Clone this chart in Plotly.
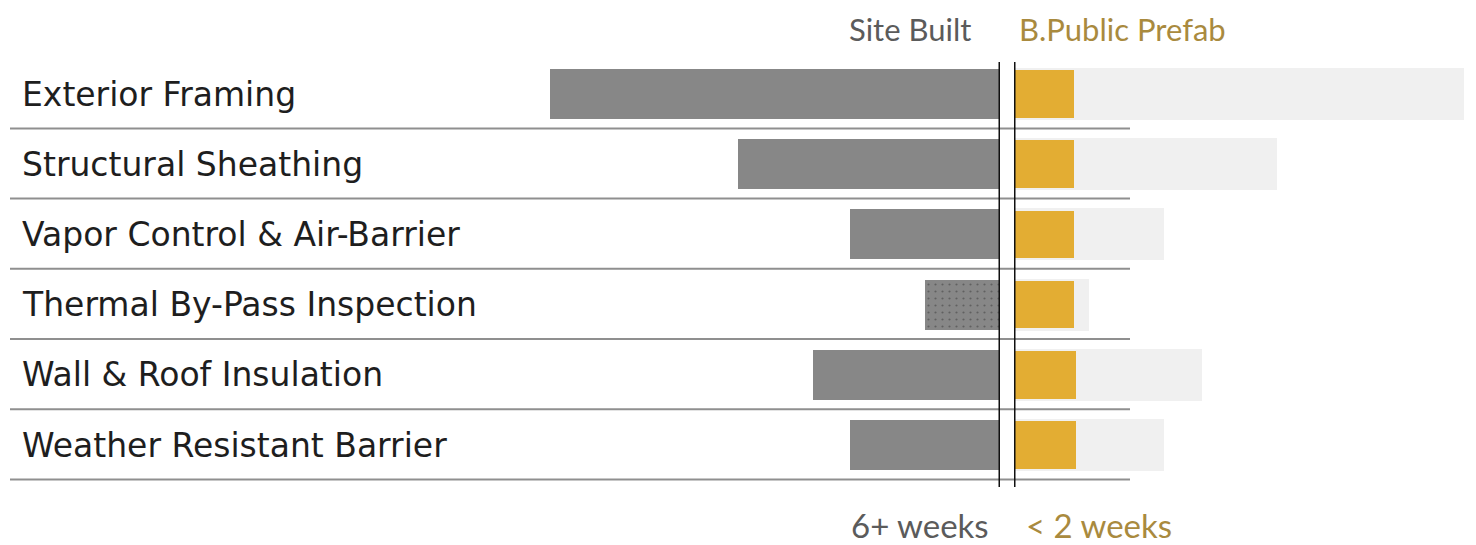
import plotly.graph_objects as go

tasks = ["Exterior Framing", "Structural Sheathing", "Vapor Control & Air-Barrier",
         "Thermal By-Pass Inspection", "Wall & Roof Insulation", "Weather Resistant Barrier"]
site_built = [6.0, 3.5, 2.0, 1.0, 2.5, 2.0]
prefab = [0.8, 0.8, 0.8, 0.8, 0.83, 0.83]
header_left = "Site Built"
header_right = "B.Public Prefab"
footer_left = "6+ weeks"
footer_right = "< 2 weeks"

OFF = 8  # page body margin
W, H = 1476 - OFF, 545 - OFF
GRAY = "#878787"
GOLD = "#e3ad33"
GHOST = "#f0f0f0"
TXT_GRAY = "#5b5b5b"
TXT_GOLD = "#a98a3e"
LABEL_FONT = "DejaVu Sans"
HEAD_FONT = "Lato"


def px(p):
    return (p - OFF) / W


def py(p):
    return 1 - (p - OFF) / H


fig = go.Figure()

patterns = ["" if t != "Thermal By-Pass Inspection" else "." for t in tasks]
fig.add_trace(go.Bar(
    y=tasks, x=site_built, orientation="h", xaxis="x", yaxis="y",
    marker=dict(color=GRAY, line=dict(width=0),
                pattern=dict(shape=patterns, fgcolor="#3a3a3a", size=7, solidity=0.08)),
    width=0.71, hoverinfo="skip", showlegend=False))

fig.add_trace(go.Bar(
    y=tasks, x=site_built, orientation="h", xaxis="x2", yaxis="y",
    marker=dict(color=GHOST, line=dict(width=0)), width=0.74,
    hoverinfo="skip", showlegend=False))

fig.add_trace(go.Bar(
    y=tasks, x=prefab, orientation="h", xaxis="x2", yaxis="y",
    marker=dict(color=GOLD, line=dict(width=0)), width=0.68,
    hoverinfo="skip", showlegend=False))

n = len(tasks)
shapes = []
for i in range(n):
    shapes.append(dict(type="line", xref="paper", yref="y",
                       x0=px(10), x1=px(1130), y0=i + 0.49, y1=i + 0.49,
                       line=dict(color="#8f8f8f", width=2), layer="below"))
shapes.append(dict(type="line", xref="x", yref="paper", x0=0, x1=0,
                   y0=py(487), y1=py(62), line=dict(color="#111111", width=3)))
shapes.append(dict(type="line", xref="x2", yref="paper", x0=0, x1=0,
                   y0=py(487), y1=py(62), line=dict(color="#111111", width=3)))

annotations = []
for t in tasks:
    annotations.append(dict(x=px(20), xref="paper", y=t, yref="y", text=t,
                            xanchor="left", yanchor="middle", showarrow=False,
                            font=dict(family=LABEL_FONT, size=33, color="#1e1e1e")))
annotations += [
    dict(x=px(972), y=py(29), xref="paper", yref="paper", text=header_left,
         xanchor="right", yanchor="middle", showarrow=False, borderpad=0,
         font=dict(family=HEAD_FONT, size=31, color=TXT_GRAY)),
    dict(x=px(1018), y=py(29), xref="paper", yref="paper", text=header_right,
         xanchor="left", yanchor="middle", showarrow=False, borderpad=0,
         font=dict(family=HEAD_FONT, size=31, color=TXT_GOLD)),
    dict(x=px(990), y=py(525), xref="paper", yref="paper", text=footer_left,
         xanchor="right", yanchor="middle", showarrow=False, borderpad=0,
         font=dict(family=HEAD_FONT, size=33, color=TXT_GRAY)),
    dict(x=px(1025), y=py(525), xref="paper", yref="paper", text=footer_right,
         xanchor="left", yanchor="middle", showarrow=False, borderpad=0,
         font=dict(family=HEAD_FONT, size=33, color=TXT_GOLD)),
]

row_h = 70.2
top_idx = -(94 - OFF) / row_h
fig.update_layout(
    width=W, height=H, margin=dict(l=0, r=0, t=0, b=0),
    paper_bgcolor="white", plot_bgcolor="white",
    barmode="overlay", bargap=0,
    xaxis=dict(domain=[0, px(1000)], range=[(1000 - OFF) / 75, 0], visible=False),
    xaxis2=dict(domain=[px(1014), 1], range=[0, (1476 - 1014) / 75], visible=False, anchor="y"),
    yaxis=dict(range=[top_idx + H / row_h, top_idx], visible=False,
               categoryorder="array", categoryarray=tasks),
    shapes=shapes, annotations=annotations,
)

fig.write_html("out.html")
